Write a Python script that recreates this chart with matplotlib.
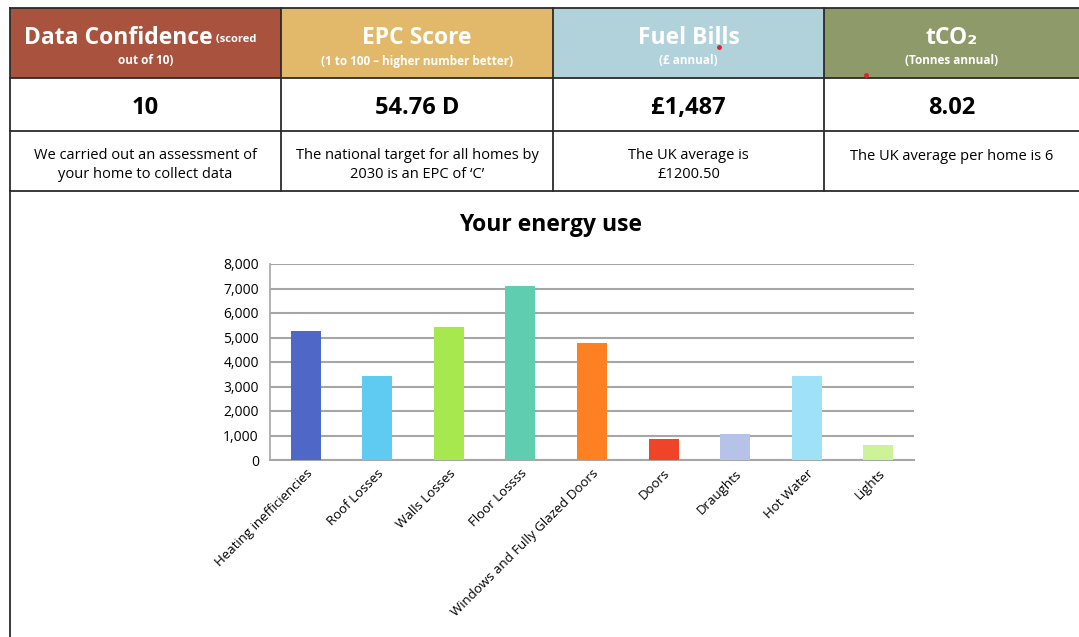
import matplotlib
matplotlib.use('Agg')
import matplotlib.pyplot as plt
from matplotlib.patches import Rectangle

plt.rcParams['font.family'] = ['Open Sans', 'DejaVu Sans']

# header cards
card_titles = ['Data Confidence', 'EPC Score', 'Fuel Bills', 'tCO₂']
card_subs = ['out of 10)', '(1 to 100 – higher number better)', '(£ annual)', '(Tonnes annual)']
card_values = ['10', '54.76 D', '£1,487', '8.02']
card_notes = ['We carried out an assessment of\nyour home to collect data',
              'The national target for all homes by\n2030 is an EPC of ‘C’',
              'The UK average is\n£1200.50',
              'The UK average per home is 6']
card_colors = ['#A9533F', '#E2B96A', '#B1D1DB', '#8E9A6A']

# energy use chart
categories = ['Heating inefficiencies', 'Roof Losses', 'Walls Losses', 'Floor Lossss',
              'Windows and Fully Glazed Doors', 'Doors', 'Draughts', 'Hot Water', 'Lights']
energy = [5250, 3420, 5410, 7120, 4760, 840, 1080, 3420, 600]
bar_colors = ['#4F67C7', '#5FCBF0', '#A8E84F', '#5ECDB0', '#FD8023',
              '#EF4427', '#B7C2E8', '#9FE1F7', '#CCF398']

W, H = 1079, 637
fig = plt.figure(figsize=(W / 100, H / 100), dpi=100)
bg = fig.add_axes([0, 0, 1, 1])
bg.set_xlim(0, W)
bg.set_ylim(H, 0)
bg.axis('off')

cols = [10, 281, 553, 824, 1079]
rows = [8, 78, 131, 191]
line_kw = dict(color='#2b2b2b', lw=1.3)

for i in range(4):
    x0, x1 = cols[i], cols[i + 1]
    bg.add_patch(Rectangle((x0, rows[0]), x1 - x0, rows[1] - rows[0],
                           facecolor=card_colors[i], edgecolor='none'))
    xc = (x0 + x1) / 2
    if i == 0:
        t = bg.text(24, 38, card_titles[0], fontsize=16.5, fontweight='bold',
                    color='white', ha='left', va='center')
        bg.annotate(' (scored', xy=(1, 0.2), xycoords=t, fontsize=8,
                    fontweight='bold', color='white', ha='left', va='bottom')
    else:
        bg.text(xc, 38, card_titles[i], fontsize=16.5, fontweight='bold',
                color='white', ha='center', va='center')
    bg.text(xc, 61, card_subs[i], fontsize=8.5, fontweight='bold',
            color='white', ha='center', va='center')
    bg.text(xc, 108, card_values[i], fontsize=17, fontweight='bold',
            color='black', ha='center', va='center')
    note_y = 165 if '\n' in card_notes[i] else 156
    bg.text(xc, note_y, card_notes[i], fontsize=10.5, color='black',
            ha='center', va='center', linespacing=1.35)

for y in rows:
    bg.plot([10, W], [y, y], **line_kw)
for x in cols[:4]:
    bg.plot([x, x], [rows[0], rows[-1]], **line_kw)
bg.plot([10, 10], [rows[-1], H], **line_kw)

# small red marks on the source image
bg.plot([719, 866], [47, 75], 'o', color='#E8202A', ms=2.5)

bg.text(551, 225, 'Your energy use', fontsize=16.5, fontweight='bold',
        ha='center', va='center', color='black')

ax = fig.add_axes([270 / W, 1 - 460 / H, 644 / W, 196 / H])
x = range(len(categories))
ax.bar(x, energy, width=0.42, color=bar_colors, zorder=3)
ax.set_ylim(0, 8000)
ax.set_xlim(-0.5, len(categories) - 0.5)
ax.set_yticks(range(0, 8001, 1000))
ax.set_yticklabels([f'{v:,}' for v in range(0, 8001, 1000)], fontsize=10)
ax.yaxis.grid(True, color='#A6A6A6', lw=1.5, zorder=0)
ax.set_xticks(list(x))
ax.set_xticklabels(categories, rotation=45, ha='right', rotation_mode='anchor',
                   fontsize=9.5)
ax.tick_params(axis='both', length=0, pad=8)
ax.tick_params(axis='x', pad=5)
for s in ['top', 'right']:
    ax.spines[s].set_visible(False)
ax.spines['left'].set_color('#A6A6A6')
ax.spines['bottom'].set_color('#A6A6A6')
ax.spines['left'].set_linewidth(1.2)
ax.spines['bottom'].set_linewidth(1.5)

fig.savefig('out.png', dpi=100)
